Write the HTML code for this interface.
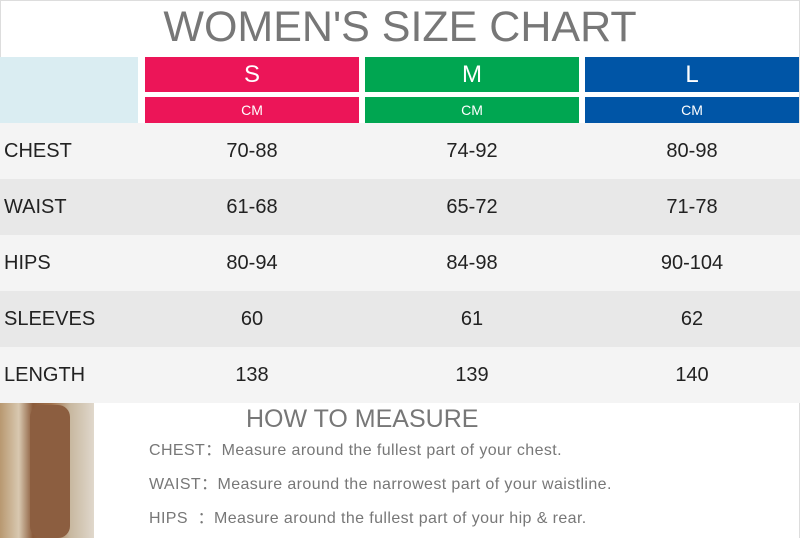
<!DOCTYPE html>
<html><head><style>
*{margin:0;padding:0;box-sizing:border-box}
body{width:800px;height:538px;overflow:hidden;background:#fff;font-family:"Liberation Sans",sans-serif;position:relative}
.a{position:absolute}
.t{left:0;width:800px;top:0;height:57px;text-align:center;font-size:43px;color:#777;line-height:54px;letter-spacing:0}
.h{color:#fff;text-align:center}
.row{left:0;width:800px;height:56px;font-size:20px;color:#222;line-height:56px}
.row span{position:absolute;top:0}
.c{width:214px;text-align:center}
.m{font-size:16px;color:#777;left:149px;line-height:20px;letter-spacing:0.4px}
</style></head><body>
<div class="a" style="left:0;top:0;width:800px;height:538px;border:1px solid #ddd;border-bottom:none"></div>
<div class="a t">WOMEN'S SIZE CHART</div>
<div class="a" style="left:0;top:57px;width:138px;height:66px;background:#daedf2"></div>
<div class="a h" style="left:145px;top:57px;width:214px;height:35px;background:#ec1558;font-size:24px;line-height:35px">S</div>
<div class="a h" style="left:145px;top:97px;width:214px;height:26px;background:#ec1558;font-size:14px;line-height:26px">CM</div>
<div class="a h" style="left:365px;top:57px;width:214px;height:35px;background:#00a651;font-size:24px;line-height:35px">M</div>
<div class="a h" style="left:365px;top:97px;width:214px;height:26px;background:#00a651;font-size:14px;line-height:26px">CM</div>
<div class="a h" style="left:585px;top:57px;width:214px;height:35px;background:#0055a6;font-size:24px;line-height:35px">L</div>
<div class="a h" style="left:585px;top:97px;width:214px;height:26px;background:#0055a6;font-size:14px;line-height:26px">CM</div>

<div class="a row" style="top:123px;background:#f4f4f4"><span style="left:4px">CHEST</span><span class="c" style="left:145px">70-88</span><span class="c" style="left:365px">74-92</span><span class="c" style="left:585px">80-98</span></div>
<div class="a row" style="top:179px;background:#e8e8e8"><span style="left:4px">WAIST</span><span class="c" style="left:145px">61-68</span><span class="c" style="left:365px">65-72</span><span class="c" style="left:585px">71-78</span></div>
<div class="a row" style="top:235px;background:#f4f4f4"><span style="left:4px">HIPS</span><span class="c" style="left:145px">80-94</span><span class="c" style="left:365px">84-98</span><span class="c" style="left:585px">90-104</span></div>
<div class="a row" style="top:291px;background:#e8e8e8"><span style="left:4px">SLEEVES</span><span class="c" style="left:145px">60</span><span class="c" style="left:365px">61</span><span class="c" style="left:585px">62</span></div>
<div class="a row" style="top:347px;background:#f4f4f4"><span style="left:4px">LENGTH</span><span class="c" style="left:145px">138</span><span class="c" style="left:365px">139</span><span class="c" style="left:585px">140</span></div>

<div class="a" style="left:0;top:403px;width:94px;height:135px;background:linear-gradient(90deg,#b89870 0%,#d8c8b0 20%,#8a5a3a 35%,#a0704a 55%,#c8b8a0 75%,#e0d8cc 100%)"></div>
<div class="a" style="left:30px;top:405px;width:40px;height:133px;background:#8c5e40;border-radius:12px"></div>
<div class="a" style="left:246px;top:403px;font-size:25px;color:#777;line-height:32px">HOW TO MEASURE</div>
<div class="a m" style="top:441px">CHEST：Measure around the fullest part of your chest.</div>
<div class="a m" style="top:475px">WAIST：Measure around the narrowest part of your waistline.</div>
<div class="a m" style="top:509px">HIPS &nbsp;：Measure around the fullest part of your hip &amp; rear.</div>
</body></html>
